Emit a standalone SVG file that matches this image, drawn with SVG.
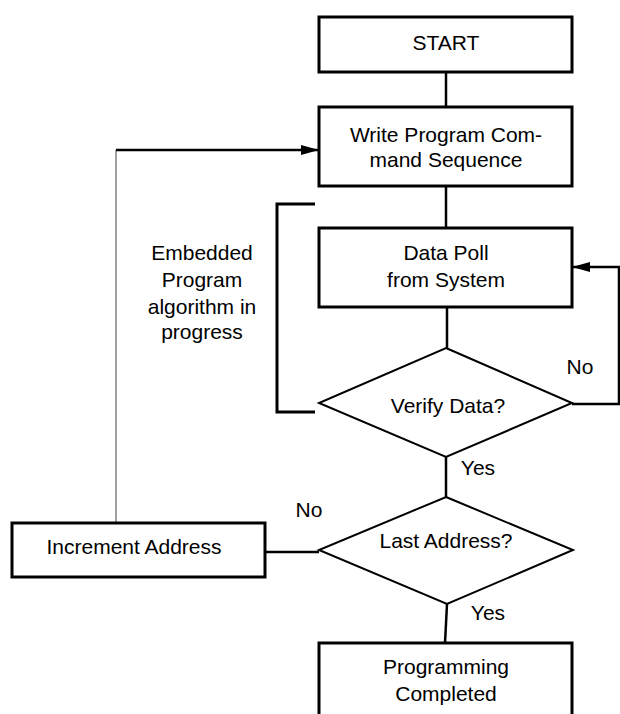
<svg xmlns="http://www.w3.org/2000/svg" width="620" height="714" viewBox="0 0 620 714">
<style>
.box{fill:#fff;stroke:#000;stroke-width:3}
.dia{fill:#fff;stroke:#000;stroke-width:2}
.ln{fill:none;stroke:#000;stroke-width:2.5}
.gray{fill:none;stroke:#808080;stroke-width:1.5}
text{font-family:"Liberation Sans",Arial,sans-serif;font-size:21px;fill:#000;text-anchor:middle}
</style>
<defs>
<marker id="ah" markerWidth="18" markerHeight="10" refX="18" refY="5" orient="auto" markerUnits="userSpaceOnUse">
<path d="M0,0 L18,5 L0,10 Z" fill="#000"/>
</marker>
</defs>
<g id="connectors">
<line class="ln" x1="446" y1="72" x2="446" y2="107"/>
<line class="ln" x1="446" y1="186" x2="446" y2="228"/>
<line class="ln" x1="447" y1="307" x2="447" y2="348"/>
<line class="ln" x1="446" y1="457" x2="446" y2="497"/>
<line class="ln" x1="447" y1="604" x2="445" y2="643"/>
<polyline class="ln" points="572,404 619,404 619,267 572,267" marker-end="url(#ah)"/>
<line class="ln" x1="266" y1="552" x2="319" y2="552"/>
<line class="gray" x1="116" y1="523" x2="116" y2="150"/>
<line class="ln" x1="116" y1="150" x2="319" y2="150" marker-end="url(#ah)"/>
<polyline class="box" style="fill:none" points="315,204 277,204 277,412 315,412"/>
</g>
<g id="start">
<rect class="box" x="319" y="17" width="253" height="55"/>
<text x="446" y="50">START</text>
</g>
<g id="write">
<rect class="box" x="319" y="107" width="253" height="79"/>
<text x="446" y="142">Write Program Com-</text>
<text x="446" y="167">mand Sequence</text>
</g>
<g id="datapoll">
<rect class="box" x="319" y="228" width="253" height="79"/>
<text x="446" y="260">Data Poll</text>
<text x="446" y="287">from System</text>
</g>
<g id="verify">
<polygon class="dia" points="446,348 572,403 446,457 319,403"/>
<text x="448" y="413">Verify Data?</text>
</g>
<g id="embedded">
<text x="202" y="260">Embedded</text>
<text x="202" y="287">Program</text>
<text x="202" y="314">algorithm in</text>
<text x="202" y="339">progress</text>
</g>
<g id="lastaddr">
<polygon class="dia" points="446,497 573,550 447,604 319,550"/>
<text x="446" y="548">Last Address?</text>
</g>
<g id="increment">
<rect class="box" x="12" y="523" width="253" height="54"/>
<text x="134" y="554">Increment Address</text>
</g>
<g id="completed">
<rect class="box" x="319" y="643" width="253" height="90"/>
<text x="446" y="674">Programming</text>
<text x="446" y="701">Completed</text>
</g>
<g id="labels">
<text x="580" y="374">No</text>
<text x="478" y="475">Yes</text>
<text x="309" y="517">No</text>
<text x="488" y="620">Yes</text>
</g>
</svg>
